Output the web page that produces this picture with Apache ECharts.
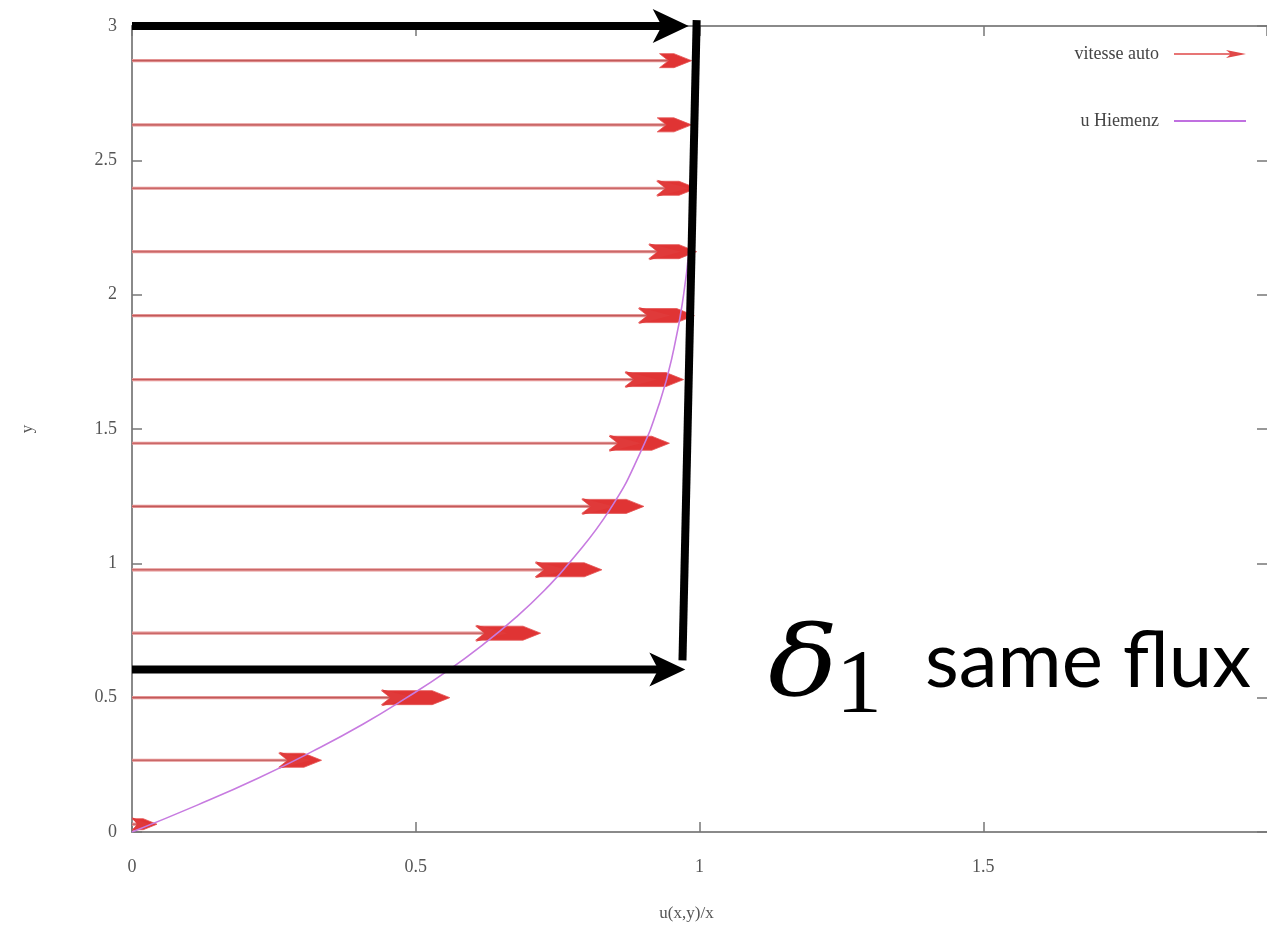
<!DOCTYPE html>
<html><head><meta charset="utf-8">
<script src="https://cdn.jsdelivr.net/npm/echarts@6/dist/echarts.min.js"></script>
<style>html,body{margin:0;padding:0;background:#fff}#c{width:1267px;height:927px}</style>
</head><body><div id="c"></div><script>
// ---- data ----
const arrowY     = [0.029, 0.267, 0.500, 0.740, 0.976, 1.212, 1.447, 1.684, 1.922, 2.160, 2.396, 2.632, 2.871];
const arrowFront = [0.044, 0.334, 0.560, 0.720, 0.828, 0.902, 0.947, 0.972, 0.991, 0.995, 0.995, 0.982, 0.986];
const arrowBack  = [0.030, 0.315, 0.496, 0.662, 0.767, 0.849, 0.897, 0.925, 0.949, 0.967, 0.981, 0.986, 0.986];
const curveY = [0, 0.1, 0.2, 0.3, 0.4, 0.5, 0.6, 0.7, 0.8, 0.9, 1.0, 1.2, 1.4, 1.6, 1.8, 2.0, 2.2, 2.4, 2.6, 2.8, 3.0];
const curveX = [0, 0.115, 0.222, 0.318, 0.406, 0.484, 0.556, 0.620, 0.677, 0.727, 0.770, 0.842, 0.893, 0.930, 0.955, 0.972, 0.983, 0.990, 0.995, 0.997, 0.998];
// annotation segments (black): start x, start y, end x, end y, arrow head
const annX0 = [0, 0, 0.995];
const annY0 = [3.0, 0.605, 3.022];
const annX1 = [0.981, 0.975, 0.970];
const annY1 = [3.0, 0.605, 0.639];
const annHead = [1, 1, 0];
const seriesNames = ['vitesse auto', 'u Hiemenz'];
const axisNames = ['u(x,y)/x', 'y'];

const arrowData = arrowY.map((y, i) => [y, arrowFront[i], arrowBack[i]]);
const curveData = curveY.map((y, i) => [curveX[i], y]);
const annData = annX0.map((x, i) => [x, annY0[i], annX1[i], annY1[i], annHead[i]]);

function headPoly(tx, ty, ux, uy, L, h, n) {
  const px = -uy, py = ux;
  const bx = tx - ux * L, by = ty - uy * L;
  return [[tx, ty], [bx + px * h, by + py * h], [tx - ux * (L - n), ty - uy * (L - n)], [bx - px * h, by - py * h]];
}

const chart = echarts.init(document.getElementById('c'));
const labelFont = { fontFamily: 'Liberation Serif', fontSize: 18, color: '#555' };
const axisLine = { show: true, onZero: false, lineStyle: { color: '#8a8a8a', width: 2 } };
const axisTick = { show: true, inside: true, length: 10, lineStyle: { color: '#777', width: 1.5 } };

chart.setOption({
  animation: false,
  backgroundColor: '#fff',
  grid: { left: 132, top: 26, width: 1142, height: 806, containLabel: false },
  legend: {
    orient: 'vertical', right: 16, top: 40, align: 'right', itemWidth: 72, itemHeight: 10, itemGap: 49,
    textStyle: { fontFamily: 'Liberation Serif', fontSize: 18, color: '#444', padding: [0, 10, 0, 0] },
    data: [
      { name: seriesNames[0], icon: 'path://M0,4.3 H60 V5.7 H0 Z M52,1 L72,5 L52,9 L57,5 Z', itemStyle: { color: '#e04848' } },
      { name: seriesNames[1], icon: 'path://M0,4.1 H72 V5.9 H0 Z', itemStyle: { color: '#c070e0' } }
    ]
  },
  xAxis: [
    { type: 'value', min: 0, max: 2, interval: 0.5, position: 'bottom',
      name: axisNames[0], nameLocation: 'middle', nameGap: 73,
      nameTextStyle: { fontFamily: 'Liberation Serif', fontSize: 17, color: '#555', padding: [0, 26, 0, 0] },
      axisLine, axisTick, splitLine: { show: false },
      axisLabel: Object.assign({ margin: 26, showMaxLabel: false }, labelFont) },
    { type: 'value', min: 0, max: 2, interval: 0.5, position: 'top',
      axisLine, axisTick, splitLine: { show: false }, axisLabel: { show: false } }
  ],
  yAxis: [
    { type: 'value', min: 0, max: 3, interval: 0.5, position: 'left',
      name: axisNames[1], nameLocation: 'middle', nameGap: 96, nameRotate: 90,
      nameTextStyle: { fontFamily: 'Liberation Serif', fontSize: 17, color: '#555' },
      axisLine, axisTick, splitLine: { show: false },
      axisLabel: Object.assign({ margin: 15 }, labelFont) },
    { type: 'value', min: 0, max: 3, interval: 0.5, position: 'right',
      axisLine: { show: false, onZero: false }, axisTick, splitLine: { show: false }, axisLabel: { show: false } }
  ],
  series: [
    {
      name: seriesNames[1], type: 'line', data: curveData, smooth: true, showSymbol: false, symbol: 'none',
      lineStyle: { color: '#c77be0', width: 1.6 }, itemStyle: { color: '#c77be0' }, z: 3
    },
    {
      name: seriesNames[0], type: 'custom', data: arrowData, encode: { x: [1, 2], y: 0 },
      itemStyle: { color: '#e04848' }, z: 2,
      renderItem: function (params, api) {
        const y = api.value(0);
        const p0 = api.coord([0, y]);
        const pf = api.coord([api.value(1), y]);
        const pb = api.coord([api.value(2), y]);
        const front = Math.max(pf[0], pb[0]);
        const back = Math.min(pf[0], pb[0]);
        const len = front - p0[0];
        const children = [
          { type: 'line', shape: { x1: p0[0], y1: p0[1], x2: front - 8, y2: p0[1] },
            style: { stroke: '#e49494', lineWidth: 3.2 } },
          { type: 'line', shape: { x1: p0[0], y1: p0[1], x2: front - 8, y2: p0[1] },
            style: { stroke: '#c25a5a', lineWidth: 1.1 } }
        ];
        const L = Math.min(32, len);
        const h = Math.min(7, L * 0.22);
        const yy = p0[1];
        const tailX = Math.max(p0[0], back - L);
        const shoulder = front - L * 0.55;
        const pts = [[front, yy], [shoulder, yy - h], [tailX, yy - h], [tailX + L * 0.28, yy],
                     [tailX, yy + h], [shoulder, yy + h]];
        children.push({ type: 'polygon', shape: { points: pts },
          style: { fill: '#e03434', stroke: '#e45252', lineWidth: 0.8 } });
        const L2 = Math.min(L, back - p0[0]);
        if (front - back > 4 && L2 > 4) {
          children.push({ type: 'polygon', shape: { points: headPoly(back, yy, 1, 0, L2, h + 1.5, L2 * 0.28) },
            style: { fill: '#e03a3a' } });
        }
        return { type: 'group', children };
      }
    },
    {
      name: 'annotation', type: 'custom', data: annData, encode: { x: [0, 2], y: [1, 3] },
      clip: false, z: 5, silent: true,
      renderItem: function (params, api) {
        const a = api.coord([api.value(0), api.value(1)]);
        const b = api.coord([api.value(2), api.value(3)]);
        const head = api.value(4);
        const dx = b[0] - a[0], dy = b[1] - a[1];
        const d = Math.sqrt(dx * dx + dy * dy);
        const ux = dx / d, uy = dy / d;
        const children = [];
        const endX = head ? b[0] - ux * 26 : b[0];
        const endY = head ? b[1] - uy * 26 : b[1];
        children.push({ type: 'line', shape: { x1: a[0], y1: a[1], x2: endX, y2: endY },
          style: { stroke: '#000', lineWidth: 8 } });
        if (head) {
          children.push({ type: 'polygon', shape: { points: headPoly(b[0], b[1], ux, uy, 36, 17, 9) },
            style: { fill: '#000' } });
        }
        return { type: 'group', children };
      }
    }
  ],
  graphic: [
    { type: 'text', x: 768, y: 670, z: 10, scaleX: 1.2,
      style: { text: 'δ', font: 'italic 97px "DejaVu Serif"', fill: '#000', verticalAlign: 'middle' } },
    { type: 'text', x: 836, y: 688, z: 10,
      style: { text: '1', font: '92px "Liberation Serif"', fill: '#000', verticalAlign: 'middle' } },
    { type: 'text', x: 925, y: 662, z: 10,
      style: { text: 'same flux', font: '78px Lato', fill: '#000', verticalAlign: 'middle' } }
  ]
});
</script></body></html>
